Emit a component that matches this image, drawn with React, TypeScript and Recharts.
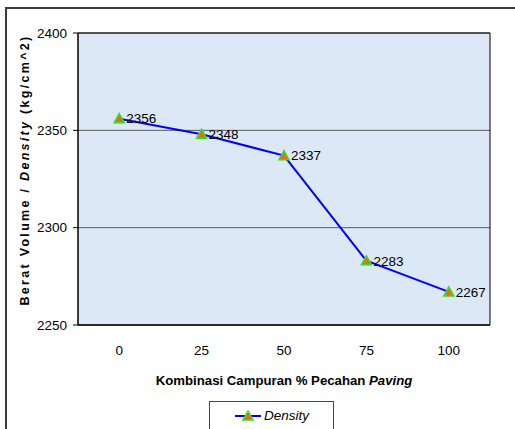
import {
  LineChart,
  Line,
  XAxis,
  YAxis,
  CartesianGrid,
  ReferenceArea,
  LabelList,
  Label,
  Legend,
} from "recharts";

// % pecahan paving in the mix (category axis)
const campuran = [0, 25, 50, 75, 100];
// measured density, kg/cm^2
const density = [2356, 2348, 2337, 2283, 2267];
const yTicks = [2250, 2300, 2350, 2400];
// tick marks sit between categories, like the Excel category axis
const batasKategori = [-12.5, 12.5, 37.5, 62.5, 87.5, 112.5];

const data = campuran.map((c, i) => ({ campuran: c, density: density[i] }));

const FONT = "'Liberation Sans', Arial, sans-serif";

function Segitiga(props: any) {
  const { cx, cy } = props;
  if (cx == null || cy == null) return null;
  return (
    <polygon
      key={`tri-${cx}`}
      points={`${cx},${cy - 5} ${cx + 5},${cy + 4} ${cx - 5},${cy + 4}`}
      fill="#f26a10"
      stroke="#2ee02e"
      strokeWidth={1.5}
    />
  );
}

function LegendBox() {
  return (
    <div
      style={{
        width: 125,
        height: 40,
        boxSizing: "border-box",
        border: "1px solid #444",
        background: "#fff",
        position: "relative",
        fontFamily: FONT,
      }}
    >
      <svg width={30} height={20} style={{ position: "absolute", left: 24, top: 4 }}>
        <line x1={1} y1={10} x2={27} y2={10} stroke="#0000ff" strokeWidth={2} />
        <polygon points="14,5 19,14 9,14" fill="#f26a10" stroke="#2ee02e" strokeWidth={1.5} />
      </svg>
      <span
        style={{
          position: "absolute",
          left: 54,
          top: 6,
          fontSize: 13.5,
          fontStyle: "italic",
          color: "#000",
        }}
      >
        Density
      </span>
    </div>
  );
}

export default function App() {
  return (
    <div
      style={{
        position: "absolute",
        left: 0,
        top: 0,
        width: 515,
        height: 429,
        overflow: "hidden",
        background: "#fff",
      }}
    >
      <div
        style={{
          position: "absolute",
          left: 5,
          top: 7,
          width: 700,
          height: 700,
          border: "2px solid #3c3c3c",
        }}
      />
      <div style={{ position: "absolute", left: 0, top: 0 }}>
        <LineChart
          width={515}
          height={429}
          data={data}
          margin={{ top: 33, right: 25, bottom: 44, left: 0 }}
        >
          <CartesianGrid vertical={false} stroke="#5a5a5a" fill="#dce8f6" fillOpacity={1} />
          <XAxis
            xAxisId="batas"
            dataKey="campuran"
            type="number"
            domain={[-12.5, 112.5]}
            allowDataOverflow
            ticks={batasKategori}
            tick={false}
            tickLine={{ stroke: "#000" }}
            tickSize={5}
            axisLine={false}
            height={0}
          />
          <XAxis
            dataKey="campuran"
            type="number"
            domain={[-12.5, 112.5]}
            allowDataOverflow
            ticks={campuran}
            tickLine={false}
            tickSize={0}
            tickMargin={20}
            axisLine={{ stroke: "#000" }}
            tick={{ fill: "#000", fontSize: 13.5, fontFamily: FONT }}
            height={60}
          >
            <Label
              content={({ viewBox }: any) => (
                <text
                  x={viewBox.x + viewBox.width / 2}
                  y={viewBox.y + 60}
                  textAnchor="middle"
                  fontFamily={FONT}
                  fontSize={13.2}
                  fontWeight="bold"
                  fill="#000"
                >
                  Kombinasi Campuran % Pecahan <tspan fontStyle="italic">Paving</tspan>
                </text>
              )}
            />
          </XAxis>
          <YAxis
            domain={[2250, 2400]}
            ticks={yTicks}
            allowDataOverflow
            width={78}
            tickSize={5}
            tickMargin={6}
            axisLine={{ stroke: "#000" }}
            tickLine={{ stroke: "#000" }}
            tick={{ fill: "#000", fontSize: 13.5, fontFamily: FONT }}
          >
            <Label
              content={() => (
                <text
                  x={25}
                  y={170}
                  transform="rotate(-90 25 170)"
                  textAnchor="middle"
                  dominantBaseline="central"
                  fontFamily={FONT}
                  fontSize={12.5}
                  fontWeight="bold"
                  letterSpacing={2.3}
                  fill="#000"
                >
                  Berat Volume / <tspan fontStyle="italic">Density</tspan> (kg/cm^2)
                </text>
              )}
            />
          </YAxis>
          <ReferenceArea
            x1={-12.5}
            x2={112.5}
            y1={2250}
            y2={2400}
            fill="none"
            fillOpacity={0}
            stroke="#000"
            strokeWidth={1}
          />
          <Line
            dataKey="density"
            stroke="#0000ff"
            strokeWidth={2}
            dot={Segitiga}
            activeDot={false}
            isAnimationActive={false}
          >
            <LabelList
              dataKey="density"
              position="right"
              offset={7}
              fill="#000"
              fontSize={13.5}
              fontFamily={FONT}
            />
          </Line>
          <Legend
            layout="vertical"
            align="center"
            verticalAlign="middle"
            content={() => <LegendBox />}
            wrapperStyle={{ left: 209, top: 401, width: 125, height: 40 }}
          />
        </LineChart>
      </div>
    </div>
  );
}
